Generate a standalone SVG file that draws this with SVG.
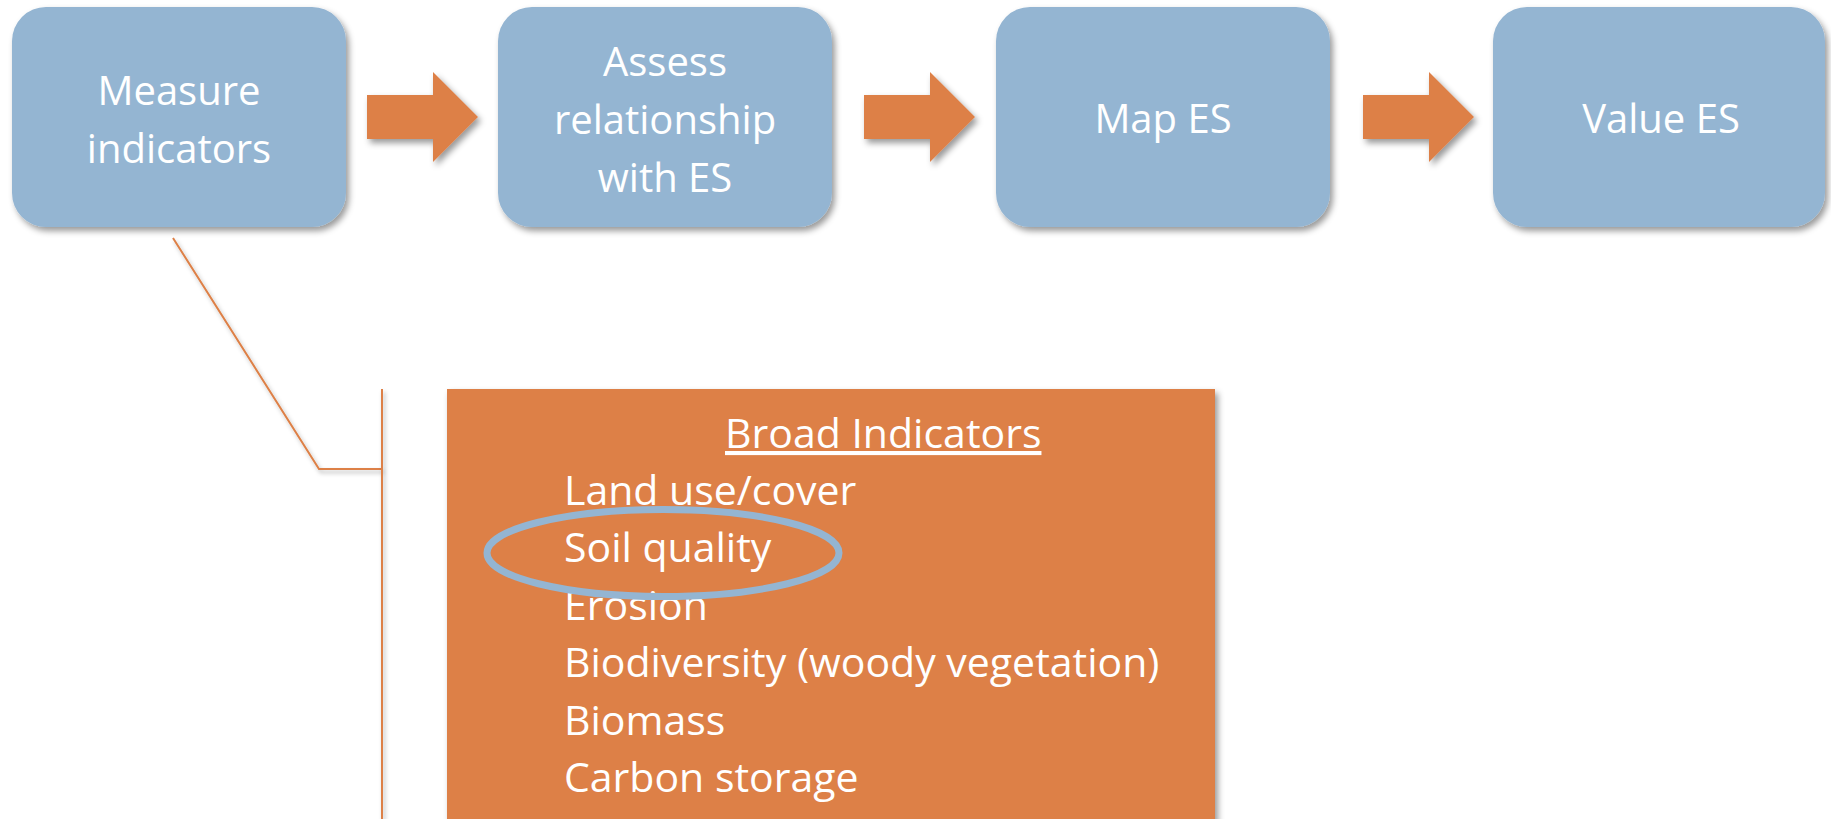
<svg xmlns="http://www.w3.org/2000/svg" width="1831" height="819" viewBox="0 0 1831 819">
<defs>
<filter id="sh" x="-10%" y="-10%" width="130%" height="130%">
<feDropShadow dx="3" dy="4" stdDeviation="3" flood-color="#000" flood-opacity="0.4"/>
</filter>
<filter id="shl" filterUnits="userSpaceOnUse" x="0" y="0" width="1831" height="819">
<feDropShadow dx="2" dy="3" stdDeviation="2" flood-color="#000" flood-opacity="0.3"/>
</filter>
<style>
.box{fill:#94B5D2;filter:url(#sh)}
.arr{fill:#DD8047;filter:url(#sh)}
.bt{font-family:"Open Sans","DejaVu Sans",sans-serif;font-size:40px;fill:#fff;text-anchor:middle}
.ot{font-family:"Open Sans","DejaVu Sans",sans-serif;font-size:41px;fill:#fff}
.cl{fill:none;stroke:#DD8047;stroke-width:2;filter:url(#shl)}
</style>
</defs>
<rect width="1831" height="819" fill="#fff"/>
<g id="connectors">
<polygon class="arr" points="367,95 433,95 433,72 478,117 433,162 433,139 367,139"/>
<polygon class="arr" points="864,95 930,95 930,72 975,117 930,162 930,139 864,139"/>
<polygon class="arr" points="1363,95 1429,95 1429,72 1474,117 1429,162 1429,139 1363,139"/>
<polyline class="cl" points="173,238 319,469 382,469"/>
<path class="cl" d="M382,389 V819"/>
</g>
<g id="node-measure">
<rect class="box" x="12" y="7" width="334" height="220" rx="34"/>
<text class="bt" x="179" y="105">Measure</text>
<text class="bt" x="179" y="163">indicators</text>
</g>
<g id="node-assess">
<rect class="box" x="498" y="7" width="334" height="220" rx="34"/>
<text class="bt" x="665" y="76">Assess</text>
<text class="bt" x="665" y="134">relationship</text>
<text class="bt" x="665" y="192">with ES</text>
</g>
<g id="node-map">
<rect class="box" x="996" y="7" width="334" height="220" rx="34"/>
<text class="bt" x="1163" y="133">Map ES</text>
</g>
<g id="node-value">
<rect class="box" x="1493" y="7" width="332" height="220" rx="34"/>
<text class="bt" x="1661" y="133">Value ES</text>
</g>
<g id="node-indicators">
<rect x="447" y="389" width="768" height="440" fill="#DD8047" filter="url(#sh)"/>
<text class="ot" x="725" y="448" font-size="40" text-decoration="underline">Broad Indicators</text>
<text class="ot" x="564" y="505">Land use/cover</text>
<text class="ot" x="564" y="562">Soil quality</text>
<text class="ot" x="564" y="620">Erosion</text>
<text class="ot" x="564" y="677">Biodiversity (woody vegetation)</text>
<text class="ot" x="564" y="735">Biomass</text>
<text class="ot" x="564" y="792">Carbon storage</text>
</g>
<g id="highlight">
<ellipse cx="663" cy="553" rx="176" ry="43.5" fill="none" stroke="#94B5D2" stroke-width="7"/>
</g>
</svg>
